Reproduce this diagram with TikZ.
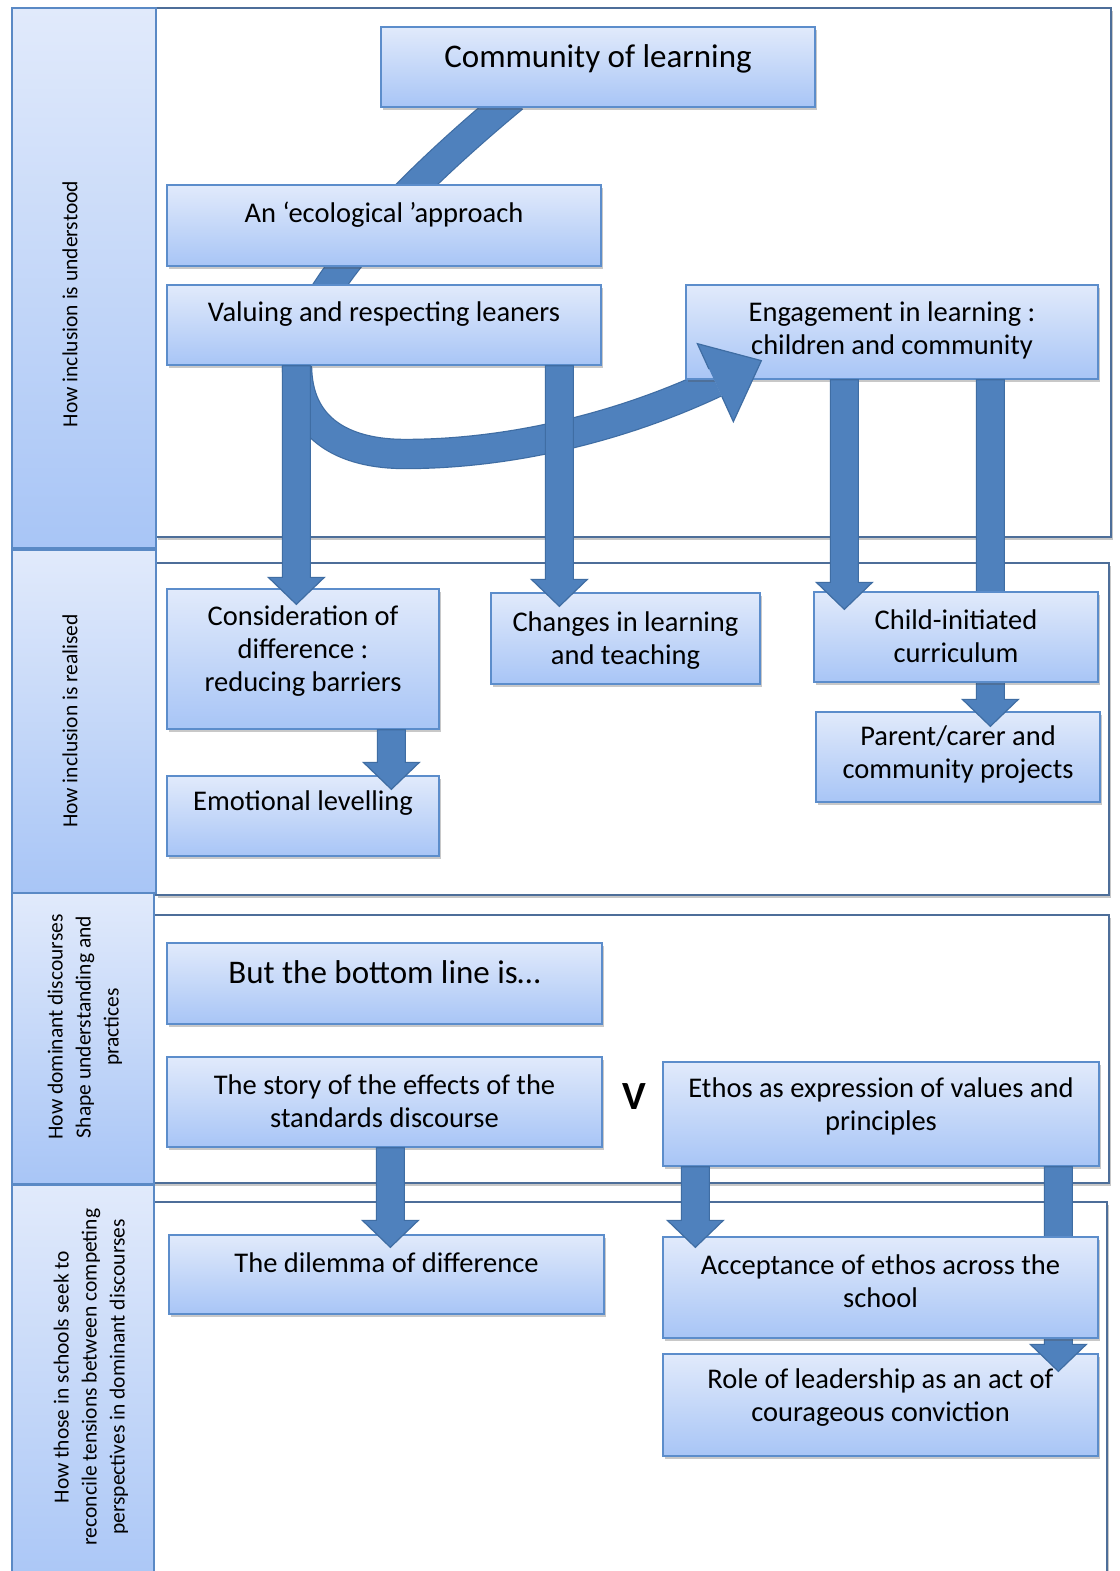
\documentclass[tikz,border=0pt]{standalone}
\usepackage{fontspec}
\setmainfont{Carlito}
\usetikzlibrary{calc,shadows,backgrounds}

\definecolor{boxtop}{HTML}{E1EAFB}
\definecolor{boxbot}{HTML}{A8C5F6}
\definecolor{boxedge}{HTML}{5C8DCB}
\definecolor{sideedge}{HTML}{5A89C5}
\definecolor{arrfill}{HTML}{4F81BD}
\definecolor{arredge}{HTML}{3F6DA3}
\definecolor{panelline}{HTML}{4D6E99}

% thick downward block arrow: x taken from #1 (start), tip height from #2
\newcommand{\downblock}[2]{%
  \filldraw[blockarrow] let \p1=(#1), \p2=(#2) in
    (\x1-14pt,\y1) -- (\x1-14pt,\y2+27pt) -- (\x1-28pt,\y2+27pt) -- (\x1,\y2)
    -- (\x1+28pt,\y2+27pt) -- (\x1+14pt,\y2+27pt) -- (\x1+14pt,\y1) -- cycle;}

\begin{document}
\begin{tikzpicture}[x=1pt,y=-1pt,
  panel/.style={rectangle, draw=panelline, line width=1.6pt, fill=white, inner sep=0pt,
    drop shadow={shadow xshift=2pt, shadow yshift=-3pt, opacity=0.22, fill=black}},
  sidebox/.style={rectangle, draw=sideedge, line width=1.8pt, top color=boxtop,
    bottom color=boxbot, inner sep=0pt},
  box/.style={rectangle, draw=boxedge, line width=1.3pt, top color=boxtop,
    bottom color=boxbot, inner sep=0pt,
    drop shadow={shadow xshift=2pt, shadow yshift=-3pt, opacity=0.3, fill=black!70}},
  btxt/.style={inner sep=0pt, align=center, text=black, font=\fontsize{28.5}{33}\selectfont},
  ttxt/.style={inner sep=0pt, align=center, text=black, font=\fontsize{33}{38}\selectfont},
  stxt/.style={inner sep=0pt, align=center, text=black, rotate=90,
    font=\fontsize{21.5}{28}\selectfont},
  blockarrow/.style={fill=arrfill, draw=arredge, line width=1.2pt, line join=miter},
  curveshaft/.style={draw=arredge, line width=1.2pt, double=arrfill, double distance=28pt}
]
\useasboundingbox (0,0) rectangle (1119,1571);

% ---- section frames and side headings ----
\begin{pgfonlayer}{background}
\fill[white] (0,0) rectangle (1119,1571);
\node[panel, minimum width=955pt, minimum height=529pt] (panel1) at (633.5,272.5) {};
\node[panel, minimum width=953pt, minimum height=332pt] (panel2) at (632.5,729) {};
\node[panel, minimum width=956pt, minimum height=268pt] (panel3) at (631,1049) {};
\node[panel, minimum width=954pt, minimum height=398pt] (panel4) at (630,1401) {};

\node[sidebox, minimum width=144pt, minimum height=540pt] (side1) at (84,278) {};
\node[sidebox, minimum width=144pt, minimum height=343pt] (side2) at (84,721.5) {};
\node[sidebox, minimum width=142pt, minimum height=291pt] (side3) at (83,1038.5) {};
\node[sidebox, minimum width=142pt, minimum height=415pt] (side4) at (83,1392.5) {};

\node[stxt] (side1-t) at (70,304) {How inclusion is understood};
\node[stxt] (side2-t) at (70,721) {How inclusion is realised};
\node[stxt] (side3-t) at (85,1027) {How dominant discourses\\Shape understanding and\\practices};
\node[stxt] (side4-t) at (91,1377) {How those in schools seek to\\reconcile tensions between competing\\perspectives in dominant discourses};
\end{pgfonlayer}

% ---- boxes ----
\node[box, minimum width=434pt, minimum height=80pt] (community) at (598,67) {};
\node[ttxt] (community-t) at (598,59) {Community of learning};

\node[box, minimum width=434pt, minimum height=81pt] (eco) at (384,225.5) {};
\node[btxt] (eco-t) at (384,215) {An ‘ecological ’approach};

\node[box, minimum width=434pt, minimum height=80pt] (valuing) at (384,325) {};
\node[btxt] (valuing-t) at (384,314) {Valuing and respecting leaners};

\node[box, minimum width=412pt, minimum height=94pt] (engage) at (892,332) {};
\node[btxt] (engage-t) at (892,330.5) {Engagement in learning :\\children and community};

\node[box, minimum width=272pt, minimum height=140pt] (cons) at (303,659) {};
\node[btxt] (cons-t) at (303,651) {Consideration of\\difference :\\reducing barriers};

\node[box, minimum width=269pt, minimum height=91pt] (changes) at (625.5,638.5) {};
\node[btxt] (changes-t) at (625.5,640.5) {Changes in learning\\and teaching};

\node[box, minimum width=284pt, minimum height=90pt] (parent) at (958,757) {};
\node[btxt] (parent-t) at (958,754.5) {Parent/carer and\\community projects};

\node[box, minimum width=272pt, minimum height=80pt] (emot) at (303,816) {};
\node[btxt] (emot-t) at (303,803) {Emotional levelling};

\node[box, minimum width=435pt, minimum height=81pt] (bottom) at (384.5,983.5) {};
\node[ttxt] (bottom-t) at (384.5,972) {But the bottom line is…};

\node[box, minimum width=435pt, minimum height=90pt] (story) at (384.5,1102) {};
\node[btxt] (story-t) at (384.5,1101.5) {The story of the effects of the\\standards discourse};

\node[font=\bfseries\fontsize{40}{48}\selectfont, inner sep=0pt] (versus) at (634,1097) {V};

\node[box, minimum width=436pt, minimum height=104pt] (ethos) at (881,1114) {};
\node[btxt] (ethos-t) at (881,1106) {Ethos as expression of values and\\principles};

\node[box, minimum width=435pt, minimum height=79pt] (dilemma) at (386.5,1274.5) {};
\node[btxt] (dilemma-t) at (386.5,1263) {The dilemma of difference};

\node[box, minimum width=435pt, minimum height=102pt] (role) at (880.5,1405) {};
\node[btxt] (role-t) at (880.5,1398) {Role of leadership as an act of\\courageous conviction};

% arrows that pass behind an intermediate box
\downblock{$(engage.south west)+(305,0)$}{[yshift=-15pt]parent.north}
\downblock{$(ethos.south west)+(396,0)$}{[yshift=-18pt]role.north}

\node[box, minimum width=284pt, minimum height=90pt] (child) at (956,637) {};
\node[btxt] (child-t) at (956,636.5) {Child-initiated\\curriculum};

\node[box, minimum width=435pt, minimum height=101pt] (accept) at (880.5,1287.5) {};
\node[btxt] (accept-t) at (880.5,1281) {Acceptance of ethos across the\\school};

% ---- straight block arrows ----
\downblock{$(valuing.south west)+(130,0)$}{[yshift=-16pt]cons.north}
\downblock{$(valuing.south west)+(393,0)$}{[yshift=-14pt]changes.north}
\downblock{$(engage.south west)+(159,0)$}{[yshift=-18pt]child.north}
\downblock{$(cons.south west)+(225,0)$}{[yshift=-14pt]emot.north}
\downblock{$(story.south west)+(224,0)$}{[yshift=-13pt]dilemma.north}
\downblock{$(ethos.south west)+(33,0)$}{[yshift=-11pt]accept.north}

% ---- curved arrow from the community of learning to engagement ----
\coordinate (cstart) at ($(community.south west)+(133,-10)$);
\coordinate (ctip) at ($(engage.south west)+(76,-19)$);
\coordinate (cbase) at ($(ctip)+(-46,22)$);
\coordinate (cb1) at ($(cbase)+(-18,-39)$);
\coordinate (cb2) at ($(cbase)+(18,39)$);
\begin{pgfonlayer}{background}
\draw[curveshaft] (cstart) .. controls (420,175) and (300,290) .. (297,365)
  .. controls (297,430) and (345,454) .. (405,454)
  .. controls (505,454) and ($(cbase)+(-100,47)$) .. (cbase);
\end{pgfonlayer}
\fill[arrfill] (cb1) -- (ctip) -- (cb2) -- cycle;
\draw[arredge, line width=1.2pt, line join=miter]
  ($(cbase)+(-6.4,-13.6)$) -- (cb1) -- (ctip) -- (cb2) -- ($(cbase)+(6.4,13.6)$);
\end{tikzpicture}
\end{document}
